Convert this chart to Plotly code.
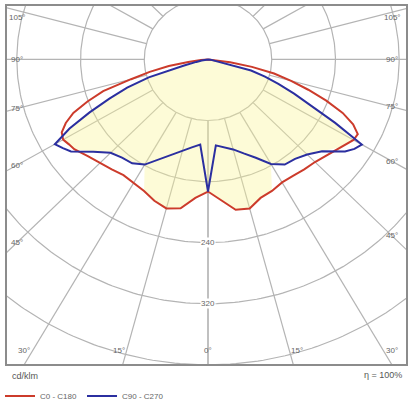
import numpy as np
import plotly.graph_objects as go

# photometric data, cd/klm, gamma measured from the downward vertical
gamma = [0, 5, 10, 15, 20, 25, 30, 35, 40, 45, 50, 55, 57.5, 60, 62.5,
         65, 67.5, 70, 72.5, 75, 77.5, 80, 82.5, 85, 90]
c0 = [173, 185, 200, 202, 193, 190, 186, 186, 188, 190, 195, 201, 206, 211, 212,
      201, 183, 158, 132, 108, 85, 56, 28, 10, 0]
c180 = [173, 182, 198, 202, 197, 190, 187, 185, 188, 192, 197, 205, 207, 210, 207,
        197, 183, 161, 138, 100, 75, 50, 25, 9, 0]
c90 = [173, 113, 117, 122, 131, 142, 158, 168, 170, 176, 187, 210, 218, 223, 180,
       144, 117, 94, 75, 56, 19, 10, 5, 3, 0]
c270 = [173, 112, 117, 123, 133, 144, 159, 166, 168, 173, 188, 210, 216, 222, 196,
        164, 134, 108, 78, 31, 15, 8, 4, 1, 0]

rings = [80, 160, 240, 320, 400, 480]
ring_labels = [240, 320]
spokes = list(range(0, 181, 15))
side_labels = [105, 90, 75, 60, 45]
bottom_labels = [30, 15, 0]
shade_switch = 27.5  # below this angle the shading follows the outer curve

# page geometry (px)
W, H = 408, 411
K = 0.7965          # px per cd/klm
CX, CY = 208, 62    # luminaire position
FL, FT, FR, FB = 7, 6, 406, 380


def px2x(px):
    return (px - CX) / K


def px2y(py):
    return -(py - CY) / K


def polar(r, g, side):
    g = np.radians(np.asarray(g, dtype=float))
    r = np.asarray(r, dtype=float)
    return side * r * np.sin(g), -r * np.cos(g)


def curve(left, right):
    xl, yl = polar(left[::-1], gamma[::-1], -1)
    xr, yr = polar(right, gamma, 1)
    return np.concatenate([xl, xr]), np.concatenate([yl, yr])


fig = go.Figure()

# grid
t = np.linspace(0, 2 * np.pi, 361)
for rv in rings:
    fig.add_trace(go.Scatter(x=rv * np.sin(t), y=rv * np.cos(t), mode="lines",
                             line=dict(color="#b4b4b4", width=1.2),
                             hoverinfo="skip", showlegend=False))
for a in spokes:
    for s in (-1, 1):
        x, y = polar([80, 800], [a, a], s)
        fig.add_trace(go.Scatter(x=x, y=y, mode="lines",
                                 line=dict(color="#b4b4b4", width=1.2),
                                 hoverinfo="skip", showlegend=False))

# shaded body
g_arr = np.array(gamma)
shade_r = np.where(g_arr <= shade_switch, np.maximum(c0, c90), np.minimum(c0, c90))
shade_l = np.where(g_arr <= shade_switch, np.maximum(c180, c270), np.minimum(c180, c270))
sx, sy = curve(shade_l, shade_r)
fig.add_trace(go.Scatter(x=sx, y=sy, mode="lines", fill="toself",
                         fillcolor="rgba(250,245,150,0.38)", line=dict(width=0),
                         hoverinfo="skip", showlegend=False))

rx, ry = curve(c180, c0)
fig.add_trace(go.Scatter(x=rx, y=ry, mode="lines", name="C0 - C180",
                         line=dict(color="#cc3b2b", width=2)))
bx, by = curve(c270, c90)
fig.add_trace(go.Scatter(x=bx, y=by, mode="lines", name="C90 - C270",
                         line=dict(color="#2b2fa0", width=2)))

ann = []
lab_font = dict(family="Liberation Sans, Arial", size=8, color="#666666")
for a in side_labels:
    for s in (-1, 1):
        xp = 17 if s < 0 else 392
        dx = abs(xp - CX)
        yp = CY + dx / np.tan(np.radians(a))
        yp = max(yp, 18)
        ann.append(dict(x=px2x(xp), y=px2y(yp), text=f"{a}°", showarrow=False,
                        font=lab_font))
for a in bottom_labels:
    for s in ((-1, 1) if a else (1,)):
        yp = 366
        xp = CX + s * (yp - CY) * np.tan(np.radians(a)) + s * (8 if a else 0)
        xp = min(max(xp, 20), 392)
        ann.append(dict(x=px2x(xp), y=px2y(yp), text=f"{a}°", showarrow=False,
                        font=lab_font))
for rv in ring_labels:
    ann.append(dict(x=0, y=-rv, text=str(rv), showarrow=False, font=lab_font,
                    bgcolor="white", borderpad=0))

ann.append(dict(xref="paper", yref="paper", x=10 / W, y=1 - 392 / H, xanchor="left",
                yanchor="middle", text="cd/klm", showarrow=False,
                font=dict(family="Liberation Sans, Arial", size=9, color="#555555")))
ann.append(dict(xref="paper", yref="paper", x=404 / W, y=1 - 391 / H, xanchor="right",
                yanchor="middle", text="η = 100%", showarrow=False,
                font=dict(family="Liberation Sans, Arial", size=9, color="#555555")))

fig.update_layout(
    width=W, height=H, margin=dict(l=0, r=0, t=0, b=0),
    paper_bgcolor="white", plot_bgcolor="white",
    xaxis=dict(domain=[FL / W, FR / W], range=[px2x(FL), px2x(FR)],
               showgrid=False, zeroline=False, showticklabels=False, ticks="",
               showline=True, mirror=True, linecolor="#8c8c8c", linewidth=2),
    yaxis=dict(domain=[1 - FB / H, 1 - FT / H], range=[px2y(FB), px2y(FT)],
               showgrid=False, zeroline=False, showticklabels=False, ticks="",
               showline=True, mirror=True, linecolor="#8c8c8c", linewidth=2),
    annotations=ann,
    showlegend=True,
    legend=dict(orientation="h", x=0.0, y=1 - 398 / H, yanchor="top",
                font=dict(family="Liberation Sans, Arial", size=8, color="#666666"),
                itemwidth=30, bgcolor="rgba(0,0,0,0)", tracegroupgap=0),
)

fig.write_html("out.html", config={"displayModeBar": False},
               post_script="document.body.style.margin='0';")
